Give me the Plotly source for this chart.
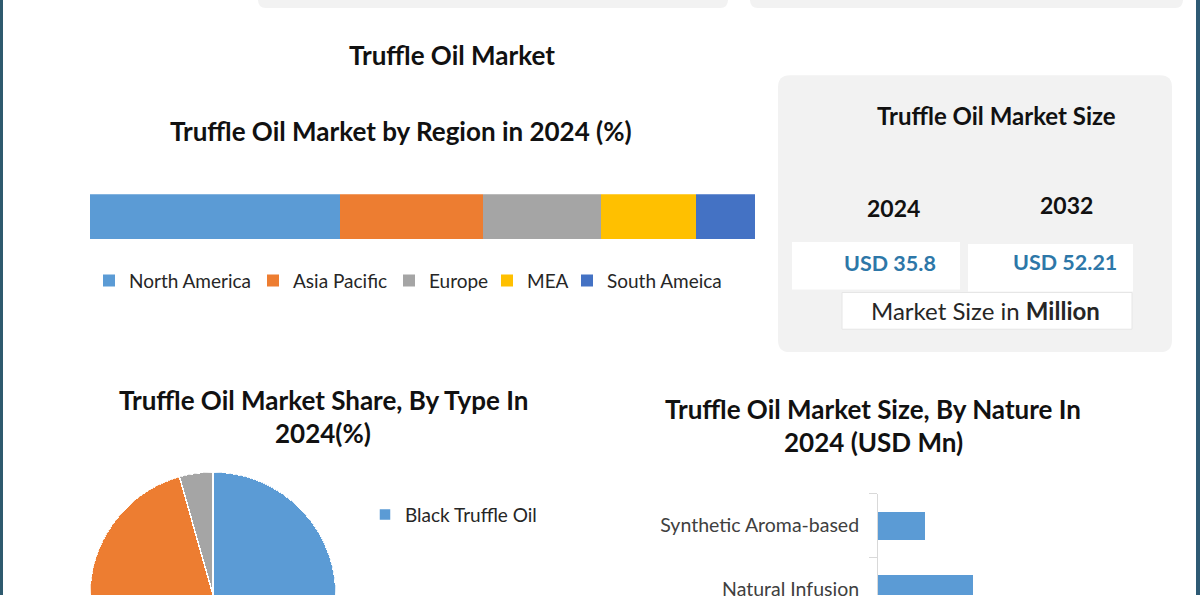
import plotly.graph_objects as go

W, H = 1200, 600

# ---------------- data ----------------
regions = ["North America", "Asia Pacific", "Europe", "MEA", "South Ameica"]
region_share = [37.6, 21.5, 17.7, 14.3, 8.9]
region_colors = ["#5B9BD5", "#ED7D31", "#A5A5A5", "#FFC000", "#4472C4"]

types = ["Black Truffle Oil", "White Truffle Oil", "Others"]
type_share = [52.0, 43.6, 4.4]
type_colors = ["#5B9BD5", "#ED7D31", "#A5A5A5"]

natures = ["Synthetic Aroma-based", "Natural Infusion"]
nature_size = [6.2, 12.6]

size_years = ["2024", "2032"]
size_values = [35.8, 52.21]

FONT = "Lato, Carlito, 'Open Sans', sans-serif"


def px(x):
    return x / W


def py(y):
    return 1 - y / H


fig = go.Figure()

# one legend per region entry so each entry sits where the reference has it
region_legend_x = [89, 253, 389, 487, 567]
region_legend_names = ["legend", "legend3", "legend4", "legend5", "legend6"]

# -------- stacked bar: market by region --------
for name, val, col, lg in zip(regions, region_share, region_colors, region_legend_names):
    fig.add_trace(go.Bar(
        x=[val], y=["2024"], orientation="h", name=name,
        marker=dict(color=col, line=dict(width=0)), width=1,
        xaxis="x", yaxis="y", legend=lg,
        hovertemplate=name + ": %{x}%<extra></extra>"))

# -------- pie (upper half visible): market share by type --------
start = 0.0
for i, (name, val, col) in enumerate(zip(types, type_share, type_colors)):
    w = val * 3.6
    fig.add_trace(go.Barpolar(
        r=[1], theta=[start + w / 2], width=[w], name=name,
        marker=dict(color=col, line=dict(color="white", width=1.5)),
        subplot="polar", legend="legend2", showlegend=(i == 0),
        hovertemplate=name + ": " + str(val) + "%<extra></extra>"))
    start += w

# -------- horizontal bars: market size by nature --------
fig.add_trace(go.Bar(
    x=nature_size, y=natures, orientation="h", width=0.44,
    marker=dict(color="#5B9BD5", line=dict(width=0)),
    xaxis="x2", yaxis="y2", showlegend=False,
    hovertemplate="%{y}: %{x}<extra></extra>"))


# -------- decorative shapes --------
def rrect(x0, y0, x1, y1, r, fill, line=None, lw=0):
    path = (f"M {px(x0 + r)} {py(y0)} L {px(x1 - r)} {py(y0)} "
            f"Q {px(x1)} {py(y0)} {px(x1)} {py(y0 + r)} "
            f"L {px(x1)} {py(y1 - r)} "
            f"Q {px(x1)} {py(y1)} {px(x1 - r)} {py(y1)} "
            f"L {px(x0 + r)} {py(y1)} "
            f"Q {px(x0)} {py(y1)} {px(x0)} {py(y1 - r)} "
            f"L {px(x0)} {py(y0 + r)} "
            f"Q {px(x0)} {py(y0)} {px(x0 + r)} {py(y0)} Z")
    return dict(type="path", xref="paper", yref="paper", path=path,
                fillcolor=fill, line=dict(color=line or fill, width=lw),
                layer="below")


shapes = [
    rrect(258, -20, 728, 8, 8, "#F2F2F2"),
    rrect(750, -20, 1183, 8, 8, "#F2F2F2"),
    rrect(778, 76, 1172, 355, 12, "#F2F2F2"),
    dict(type="rect", xref="paper", yref="paper", x0=px(792), x1=px(960),
         y0=py(292), y1=py(244), fillcolor="white", line=dict(width=0), layer="below"),
    dict(type="rect", xref="paper", yref="paper", x0=px(968), x1=px(1133),
         y0=py(294), y1=py(246), fillcolor="white", line=dict(width=0), layer="below"),
    dict(type="rect", xref="paper", yref="paper", x0=px(842), x1=px(1132),
         y0=py(332), y1=py(295), fillcolor="white",
         line=dict(color="#E6E6E6", width=1), layer="below"),
    dict(type="rect", xref="paper", yref="paper", x0=0, x1=px(3),
         y0=0, y1=1, fillcolor="#2E5A6E", line=dict(width=0)),
    dict(type="rect", xref="paper", yref="paper", x0=px(1196), x1=1,
         y0=0, y1=1, fillcolor="#2E5A74", line=dict(width=0)),
]


def ann(text, x, y, size, color="#111111", bold=True, xanchor="center", family=FONT):
    if bold:
        text = "<b>" + text + "</b>"
    return dict(text=text, x=px(x), y=py(y), xref="paper", yref="paper",
                xanchor=xanchor, yanchor="middle", showarrow=False,
                font=dict(size=size, color=color, family=family))


annotations = [
    ann("Truffle Oil Market", 452, 55, 26),
    ann("Truffle Oil Market by Region in 2024 (%)", 401, 132, 26),
    ann("Truffle Oil Market Size", 996, 116, 24),
    ann(size_years[0], 893, 210, 23),
    ann(size_years[1], 1066, 207, 23),
    ann(f"USD {size_values[0]}", 890, 265, 21.5, color="#2D77A8"),
    ann(f"USD {size_values[1]}", 1065, 264, 21.5, color="#2D77A8"),
    ann("Market Size in <b>Million</b>", 985, 313, 24, color="#262626", bold=False),
    ann("Truffle Oil Market Share, By Type In", 323, 403, 26),
    ann("2024(%)", 323, 437, 26),
    ann("Truffle Oil Market Size, By Nature In", 873, 412, 26),
    ann("2024 (USD Mn)", 873, 446, 26),
]

legend_common = dict(orientation="h", yanchor="middle", xanchor="left",
                     font=dict(size=19, color="#262626", family=FONT),
                     itemwidth=30, bgcolor="rgba(0,0,0,0)")
legends = {}
for lg, lx in zip(region_legend_names, region_legend_x):
    legends[lg] = dict(legend_common, x=px(lx), y=py(283))

fig.update_layout(
    width=W, height=H,
    margin=dict(l=0, r=0, t=0, b=0),
    paper_bgcolor="white", plot_bgcolor="rgba(0,0,0,0)",
    barmode="stack",
    font=dict(family=FONT, color="#262626"),
    xaxis=dict(domain=[px(90), px(755)], range=[0, 100], visible=False, fixedrange=True),
    yaxis=dict(domain=[py(241), py(196)], visible=False, fixedrange=True),
    xaxis2=dict(domain=[px(878), px(1150)], range=[0, 36], visible=False,
                anchor="y2", fixedrange=True),
    yaxis2=dict(domain=[0, py(498)], anchor="x2", type="category",
                categoryorder="array", categoryarray=natures,
                range=[1.094, -0.5], showline=True, linecolor="#D9D9D9", linewidth=1,
                ticks="outside", tickson="boundaries", ticklen=8, tickcolor="#D9D9D9",
                ticklabelstandoff=14,
                showgrid=False, zeroline=False,
                tickfont=dict(size=19.5, color="#404040", family=FONT), fixedrange=True),
    polar=dict(domain=dict(x=[px(89), px(337)], y=[0, 124 / H]),
               sector=[0, 180], bgcolor="rgba(0,0,0,0)", hole=0,
               angularaxis=dict(rotation=90, direction="clockwise", visible=False),
               radialaxis=dict(range=[0, 1], visible=False)),
    legend2=dict(orientation="v", x=px(365), y=py(519), xanchor="left", yanchor="middle",
                 font=dict(size=19, color="#262626", family=FONT),
                 itemwidth=30, bgcolor="rgba(0,0,0,0)"),
    shapes=shapes,
    annotations=annotations,
    **legends,
)

fig.write_html(
    "out.html",
    config={"displayModeBar": False},
    post_script=(
        "document.documentElement.style.margin='0px';"
        "document.documentElement.style.overflow='hidden';"
        "document.body.style.margin='0px';"
        "document.body.style.overflow='hidden';"
    ),
)
